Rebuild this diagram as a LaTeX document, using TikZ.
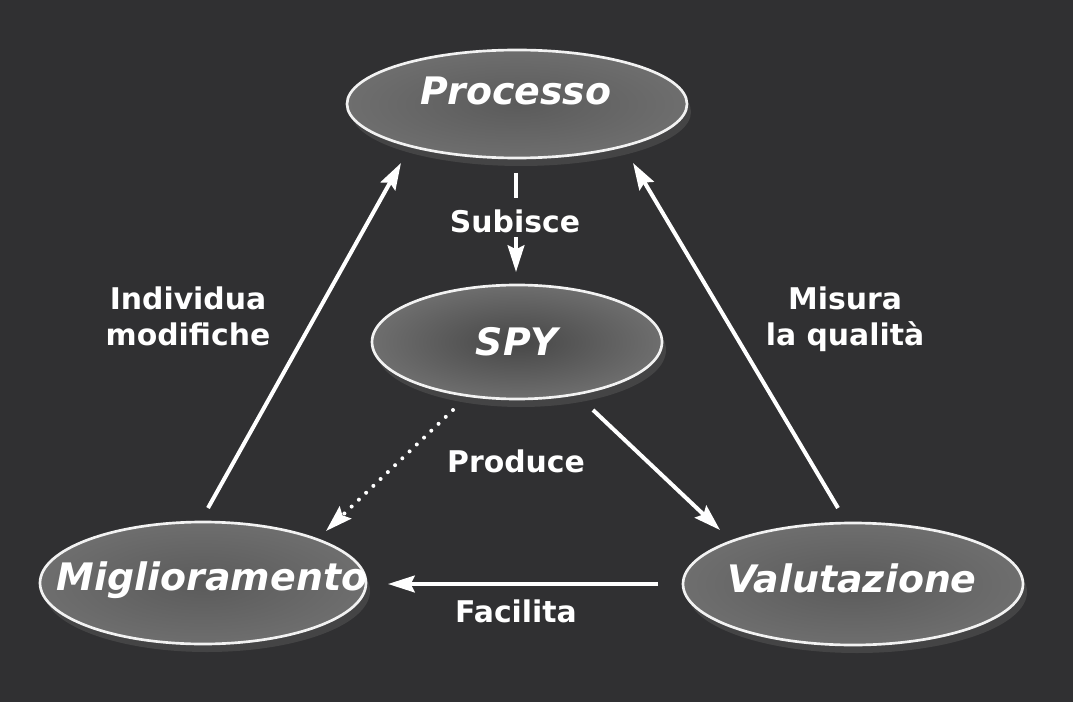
\documentclass[tikz,border=0pt]{standalone}
\usepackage{fontspec}
\setmainfont{DejaVu Sans}
\usetikzlibrary{shapes.geometric,arrows.meta,shadows}
\definecolor{bg}{HTML}{303032}
\definecolor{ovalin}{HTML}{5B5B5B}
\definecolor{ovalout}{HTML}{6E6E6E}
\definecolor{spyin}{HTML}{474747}
\definecolor{shadowc}{HTML}{444445}
\begin{document}
\begin{tikzpicture}[x=0.75pt,y=-0.75pt,
  oval/.style={ellipse, draw=white!90!gray, line width=2pt, inner sep=0pt,
    inner color=ovalin, outer color=ovalout,
    drop shadow={shadow xshift=3pt, shadow yshift=-6pt, fill=shadowc, opacity=1}},
  ovaltext/.style={font=\fontsize{28.4}{30}\selectfont\bfseries\itshape, text=white, anchor=base, inner sep=0pt},
  lbl/.style={font=\fontsize{22.4}{27}\selectfont\bfseries, text=white, align=center, anchor=base, inner sep=0pt},
  arr/.style={draw=white, line width=3pt, -{Stealth[length=20pt,width=12.5pt,inset=3pt]}},
]
\fill[bg] (0,0) rectangle (1073,702);
\useasboundingbox (0,0) rectangle (1073,702);

% ovals
\node[oval, minimum width=255pt, minimum height=81pt] (proc) at (517,104) {};
\node[oval, minimum width=217.5pt, minimum height=85.5pt, inner color=spyin] (spy) at (517,342) {};
\node[oval, minimum width=244.5pt, minimum height=91.5pt] (mig) at (203,583) {};
\node[oval, minimum width=255pt, minimum height=91.5pt] (val) at (853,584) {};

% oval texts
\node[ovaltext] (proct) at (516,105) {Processo};
\node[ovaltext] (spyt) at (517,355) {SPY};
\node[ovaltext] (migt) at (212,590) {Miglioramento};
\node[ovaltext] (valt) at (852,592) {Valutazione};

% connectors
\draw[arr] ([shift={(5,-75)}]mig.center) -- ([shift={(-116,59)}]proc.center);
\draw[arr] ([shift={(-15,-76)}]val.center) -- ([shift={(116,59)}]proc.center);
\draw[arr, dash pattern=on 18.75pt off 29.25pt] ([shift={(-1,69)}]proc.center) -- ([shift={(-1,-70)}]spy.center);
\draw[arr, line cap=round, dash pattern=on 0pt off 7.5pt] ([shift={(-64,68)}]spy.center) -- ([shift={(123,-52)}]mig.center);
\draw[arr] ([shift={(76,68)}]spy.center) -- ([shift={(-133,-54)}]val.center);
\draw[arr] ([shift={(-195,0)}]val.center) -- ([shift={(185,1)}]mig.center);

% labels
\node[lbl] (lsub) at (515,233) {Subisce};
\node[lbl] (lprod) at (516,472) {Produce};
\node[lbl] (lfac) at (516,622) {Facilita};
\node[lbl] (lind) at (188,345) {Individua\\modifiche};
\node[lbl] (lmis) at (845,345) {Misura\\la qualità};
\end{tikzpicture}
\end{document}
